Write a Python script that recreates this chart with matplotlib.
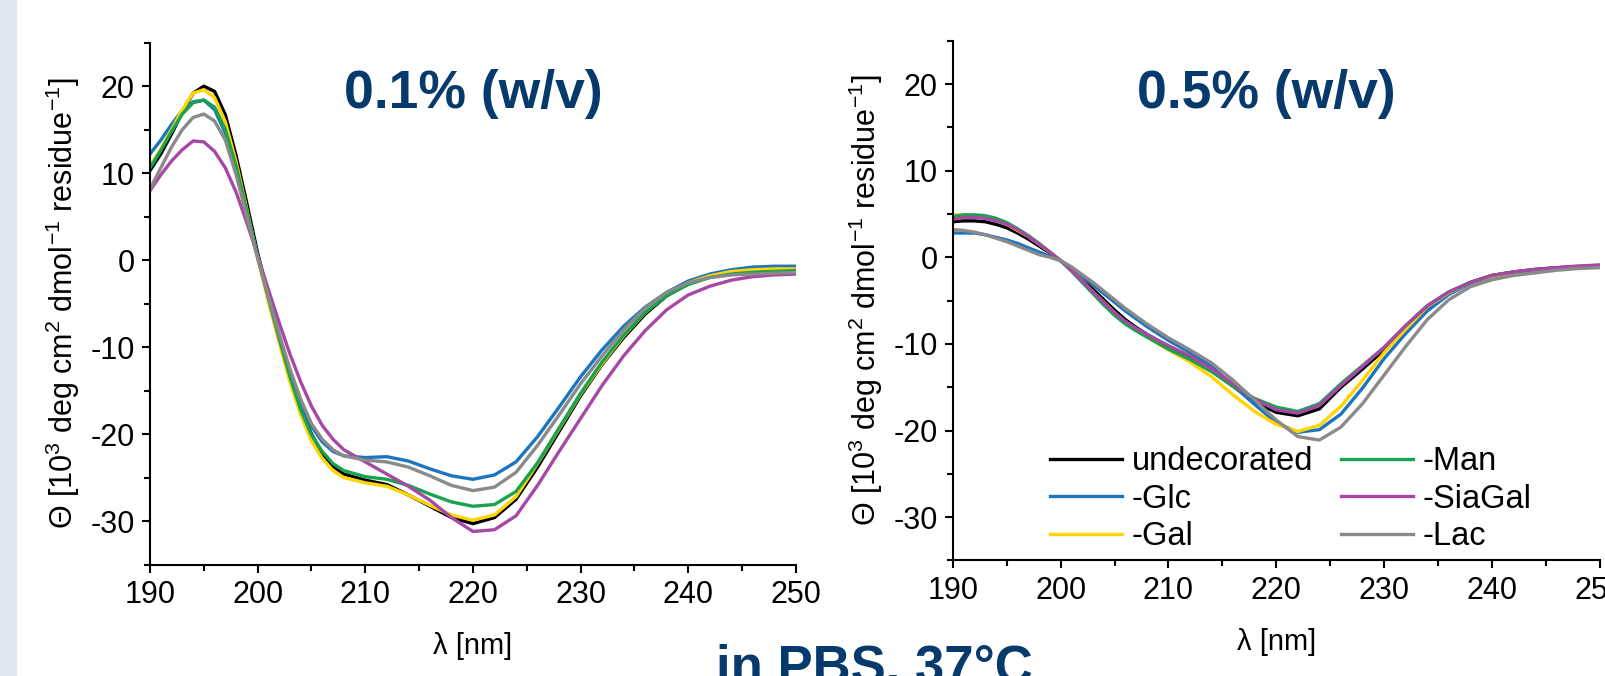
import matplotlib
matplotlib.use('Agg')
import matplotlib.pyplot as plt

plt.rcParams['font.family'] = ['Liberation Sans', 'DejaVu Sans']
plt.rcParams['mathtext.fontset'] = 'custom'
plt.rcParams['mathtext.rm'] = 'Liberation Sans'
plt.rcParams['axes.unicode_minus'] = False

# wavelength grid (nm) of the read-off points
wavelength = [190, 191, 192, 193, 194, 195, 196, 197, 198, 199, 200, 201, 202, 203, 204, 205, 206, 207, 208,
              210, 212, 214, 216, 218, 220, 222, 224, 226, 228, 230, 232, 234, 236, 238, 240, 242, 244, 246, 248, 250]

labels = ['undecorated', '-Glc', '-Gal', '-Man', '-SiaGal', '-Lac']
colors = ['#000000', '#1b75bf', '#ffd400', '#17a34f', '#a748a6', '#8a8a8a']

# 0.1% (w/v), ellipticity in 10^3 deg cm2 dmol-1 residue-1
low_undecorated = [10.3, 12.2, 14.5, 17.0, 19.2, 20.0, 19.4, 16.7, 12.0, 6.5, 0.8, -4.2, -8.8, -13.2, -17.0, -20.0, -22.2, -23.7, -24.6,
                   -25.3, -25.8, -27.0, -28.3, -29.6, -30.3, -29.6, -27.5, -23.8, -19.7, -15.6, -12.0, -8.9, -6.2, -4.1, -2.7, -1.9, -1.4, -1.2, -1.1, -1.0]
low_glc = [12.2, 13.8, 15.6, 17.2, 18.2, 18.4, 17.3, 14.6, 10.5, 5.5, 0.5, -4.2, -8.6, -12.8, -16.4, -19.1, -20.9, -22.0, -22.5,
           -22.7, -22.6, -23.1, -24.0, -24.8, -25.2, -24.7, -23.2, -20.3, -16.9, -13.4, -10.3, -7.6, -5.4, -3.7, -2.4, -1.6, -1.1, -0.8, -0.7, -0.7]
low_gal = [10.8, 12.8, 15.0, 17.3, 19.2, 19.6, 18.7, 15.9, 11.3, 5.8, 0.2, -4.8, -9.5, -14.0, -17.8, -20.8, -22.8, -24.2, -25.0,
           -25.6, -26.0, -27.0, -28.2, -29.3, -29.9, -29.3, -27.2, -23.4, -19.4, -15.4, -11.9, -8.7, -6.0, -4.0, -2.6, -1.8, -1.3, -1.1, -1.0, -1.0]
low_man = [10.6, 12.6, 14.8, 16.8, 18.1, 18.4, 17.6, 15.0, 10.8, 5.6, 0.4, -4.4, -9.0, -13.4, -17.2, -20.1, -22.0, -23.4, -24.2,
           -24.9, -25.2, -25.9, -26.9, -27.8, -28.3, -28.1, -26.6, -23.3, -19.3, -15.3, -11.7, -8.6, -6.0, -4.1, -2.8, -2.0, -1.6, -1.4, -1.3, -1.2]
low_siagal = [8.0, 9.8, 11.4, 12.7, 13.7, 13.6, 12.5, 10.6, 7.8, 4.3, 0.5, -3.4, -7.2, -10.8, -14.0, -16.8, -19.0, -20.6, -21.8,
              -23.2, -24.6, -26.0, -27.6, -29.6, -31.2, -31.0, -29.4, -25.9, -22.0, -18.2, -14.4, -11.0, -8.1, -5.7, -4.0, -3.0, -2.3, -1.9, -1.7, -1.6]
low_lac = [8.2, 10.6, 13.0, 15.0, 16.4, 16.8, 16.0, 13.8, 9.8, 5.0, 0.2, -4.2, -8.5, -12.5, -16.0, -18.8, -20.6, -21.8, -22.5,
           -23.0, -23.2, -23.8, -24.8, -25.9, -26.5, -26.1, -24.4, -21.3, -17.8, -14.2, -11.0, -8.0, -5.5, -3.7, -2.6, -2.0, -1.7, -1.6, -1.5, -1.4]

# 0.5% (w/v)
high_undecorated = [4.1, 4.2, 4.2, 4.1, 3.8, 3.4, 2.8, 2.1, 1.3, 0.5, -0.4, -1.4, -2.5, -3.7, -4.9, -6.1, -7.2, -8.1, -8.9,
                    -10.3, -11.6, -13.1, -14.9, -16.7, -17.9, -18.3, -17.5, -15.0, -12.9, -10.7, -8.1, -5.8, -4.1, -2.9, -2.1, -1.7, -1.4, -1.2, -1.1, -1.0]
high_glc = [2.8, 2.8, 2.8, 2.6, 2.3, 2.0, 1.6, 1.1, 0.6, 0.1, -0.4, -1.2, -2.2, -3.2, -4.2, -5.2, -6.2, -7.1, -8.0,
            -9.6, -11.0, -12.6, -14.8, -17.0, -19.1, -20.2, -19.9, -18.1, -15.1, -11.7, -8.8, -6.2, -4.3, -3.0, -2.3, -1.9, -1.6, -1.4, -1.2, -1.1]
high_gal = [4.9, 4.9, 4.8, 4.6, 4.3, 3.8, 3.1, 2.4, 1.5, 0.6, -0.4, -1.5, -2.7, -4.0, -5.2, -6.4, -7.5, -8.4, -9.2,
            -10.7, -12.1, -13.8, -15.9, -17.8, -19.3, -20.1, -19.4, -17.2, -14.2, -11.0, -8.3, -5.7, -4.1, -2.9, -2.2, -1.8, -1.5, -1.3, -1.1, -1.0]
high_man = [4.7, 4.9, 4.9, 4.8, 4.5, 4.0, 3.3, 2.5, 1.6, 0.6, -0.4, -1.6, -2.9, -4.2, -5.5, -6.7, -7.7, -8.5, -9.2,
            -10.6, -11.8, -13.2, -14.9, -16.3, -17.3, -17.8, -16.9, -14.6, -12.5, -10.4, -7.9, -5.6, -4.0, -2.9, -2.1, -1.7, -1.5, -1.3, -1.1, -0.9]
high_siagal = [4.4, 4.6, 4.6, 4.5, 4.2, 3.8, 3.2, 2.4, 1.5, 0.6, -0.4, -1.5, -2.7, -4.0, -5.2, -6.4, -7.4, -8.2, -8.9,
               -10.2, -11.4, -12.9, -14.6, -16.4, -17.6, -18.0, -17.1, -14.8, -12.6, -10.4, -7.9, -5.6, -4.0, -2.9, -2.1, -1.7, -1.4, -1.2, -1.0, -0.9]
high_lac = [3.2, 3.1, 2.9, 2.6, 2.2, 1.8, 1.3, 0.8, 0.3, 0.0, -0.4, -1.1, -2.0, -2.9, -3.9, -4.9, -5.9, -6.8, -7.7,
            -9.3, -10.7, -12.2, -14.2, -16.5, -18.8, -20.7, -21.1, -19.6, -16.9, -13.6, -10.3, -7.2, -4.9, -3.4, -2.6, -2.1, -1.8, -1.5, -1.3, -1.2]

low_series = [low_undecorated, low_glc, low_gal, low_man, low_siagal, low_lac]
high_series = [high_undecorated, high_glc, high_gal, high_man, high_siagal, high_lac]

NAVY = '#063a6d'
TICK_SIZE = 22
YLABEL = 'Θ [10$^3$ deg cm$^2$ dmol$^{-1}$ residue$^{-1}$]'

fig = plt.figure(figsize=(16.06, 6.76), dpi=100)

# light strip on the left edge
fig.patches.append(plt.Rectangle((0, 0), 17 / 1606, 1, transform=fig.transFigure,
                                 facecolor='#e1e8f0', edgecolor='none', zorder=0))

ax_low = fig.add_axes([0.0934, 0.1649, 0.4022, 0.7719])
ax_high = fig.add_axes([0.5933, 0.1709, 0.4028, 0.7689])


def style_axes(ax):
    ax.set_xlim(190, 250)
    ax.set_ylim(-35, 25)
    ax.set_xticks(range(190, 251, 10))
    ax.set_xticks(range(195, 250, 10), minor=True)
    ax.set_yticks(range(-30, 21, 10))
    ax.set_yticks(range(-35, 26, 10), minor=True)
    ax.spines['top'].set_visible(False)
    ax.spines['right'].set_visible(False)
    for side in ('left', 'bottom'):
        ax.spines[side].set_linewidth(1.5)
    ax.tick_params(which='major', direction='out', length=6, width=1.5, labelsize=TICK_SIZE, pad=5)
    ax.tick_params(which='minor', direction='out', length=4, width=1.5)
    ax.set_xlabel('λ [nm]', fontsize=21, labelpad=16)
    ax.set_ylabel(YLABEL, fontsize=22, labelpad=6)


for ax, series in ((ax_low, low_series), (ax_high, high_series)):
    for values, label, color in zip(series, labels, colors):
        ax.plot(wavelength, values, color=color, lw=2.4, label=label)
    style_axes(ax)

ax_low.text(0.5, 0.875, '0.1% (w/v)', transform=ax_low.transAxes, ha='center', va='baseline',
            fontsize=38.5, fontweight='bold', color=NAVY)
ax_high.text(0.484, 0.871, '0.5% (w/v)', transform=ax_high.transAxes, ha='center', va='baseline',
             fontsize=38.5, fontweight='bold', color=NAVY)

ax_high.legend(loc='upper left', bbox_to_anchor=(0.130, 0.245), ncol=2, frameon=False,
               fontsize=23.5, handlelength=2.2, handletextpad=0.3, columnspacing=0.85,
               labelspacing=0.2, borderaxespad=0)

fig.text(874 / 1606, -0.010, 'in PBS, 37°C', ha='center', va='baseline',
         fontsize=38, fontweight='bold', color=NAVY)

fig.savefig('out.png', dpi=100)
